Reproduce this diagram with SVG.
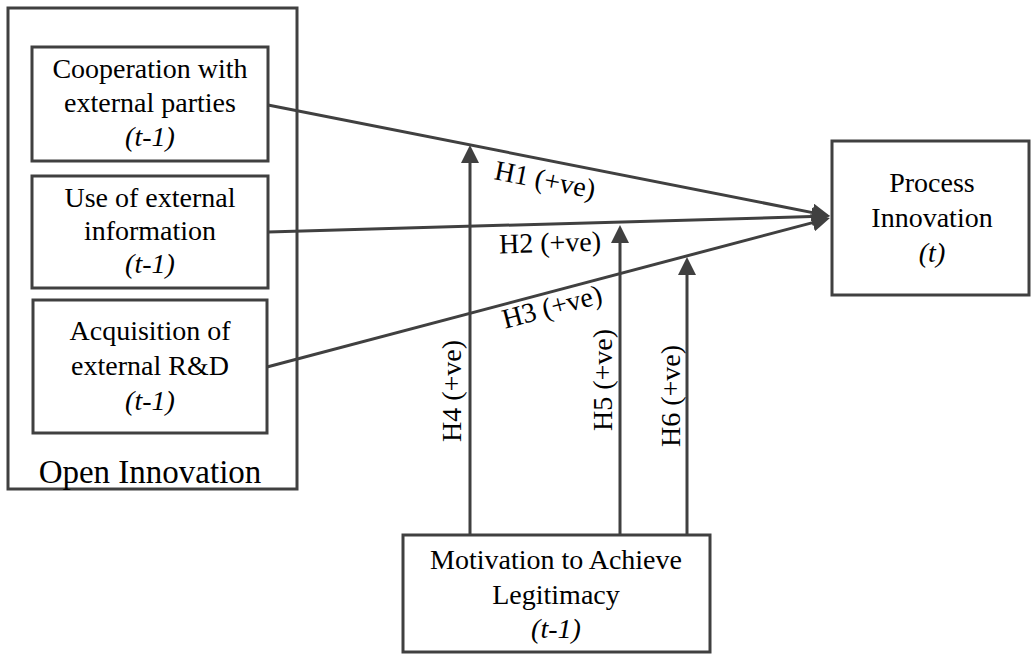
<svg xmlns="http://www.w3.org/2000/svg" width="1032" height="654" viewBox="0 0 1032 654">
<style>
.box{fill:#fff;stroke:#404040;stroke-width:3}
.t{font-family:'Liberation Serif','Times New Roman',serif;font-size:28px;fill:#000;text-anchor:middle}
.i{font-style:italic}
.ln{fill:none;stroke:#404040;stroke-width:3}
</style>
<defs>
<marker id="ah" viewBox="0 0 18 18" refX="8" refY="9" markerWidth="18" markerHeight="18" markerUnits="userSpaceOnUse" orient="auto">
<path d="M0,0 L18,9 L0,18 z" fill="#404040"/>
</marker>
</defs>
<rect width="1032" height="654" fill="#fff"/>
<g id="open-innovation">
<rect class="box" x="8" y="8" width="289" height="481" stroke-width="2.5"/>
<text class="t" x="150" y="483" style="font-size:33px">Open Innovation</text>
</g>
<g id="cooperation">
<rect class="box" x="32" y="47" width="236" height="114"/>
<text class="t" x="150" y="78">Cooperation with</text>
<text class="t" x="150" y="112">external parties</text>
<text class="t i" x="150" y="146">(t-1)</text>
</g>
<g id="external-info">
<rect class="box" x="32" y="176" width="236" height="112"/>
<text class="t" x="150" y="207">Use of external</text>
<text class="t" x="150" y="240">information</text>
<text class="t i" x="150" y="273">(t-1)</text>
</g>
<g id="external-rd">
<rect class="box" x="33" y="300" width="234" height="133"/>
<text class="t" x="150" y="340">Acquisition of</text>
<text class="t" x="150" y="375">external R&amp;D</text>
<text class="t i" x="150" y="410">(t-1)</text>
</g>
<g id="process-innovation">
<rect class="box" x="832" y="141" width="197" height="154"/>
<text class="t" x="932" y="192">Process</text>
<text class="t" x="932" y="227">Innovation</text>
<text class="t i" x="932" y="262">(t)</text>
</g>
<g id="legitimacy">
<rect class="box" x="403" y="535" width="307" height="117"/>
<text class="t" x="556" y="569">Motivation to Achieve</text>
<text class="t" x="556" y="604">Legitimacy</text>
<text class="t i" x="556" y="638">(t-1)</text>
</g>
<g id="connectors">
<line class="ln" x1="268" y1="105" x2="820.2" y2="214.1" marker-end="url(#ah)"/>
<line class="ln" x1="268" y1="232" x2="820" y2="216.3" marker-end="url(#ah)"/>
<line class="ln" x1="267" y1="367" x2="820.3" y2="220.6" marker-end="url(#ah)"/>
<line class="ln" x1="470" y1="535" x2="470" y2="155" marker-end="url(#ah)"/>
<line class="ln" x1="620" y1="535" x2="620" y2="235" marker-end="url(#ah)"/>
<line class="ln" x1="687" y1="535" x2="687" y2="267" marker-end="url(#ah)"/>
<g transform="translate(545,180) rotate(11.2)"><text class="t" x="0" y="9">H1 (+ve)</text></g>
<g transform="translate(550,243) rotate(-1.6)"><text class="t" x="0" y="9">H2 (+ve)</text></g>
<g transform="translate(552,307) rotate(-14.8)"><text class="t" x="0" y="9">H3 (+ve)</text></g>
<g transform="translate(452,391) rotate(-90)"><text class="t" x="0" y="9">H4 (+ve)</text></g>
<g transform="translate(603,380) rotate(-90)"><text class="t" x="0" y="9">H5 (+ve)</text></g>
<g transform="translate(671,396) rotate(-90)"><text class="t" x="0" y="9">H6 (+ve)</text></g>
</g>
</svg>
